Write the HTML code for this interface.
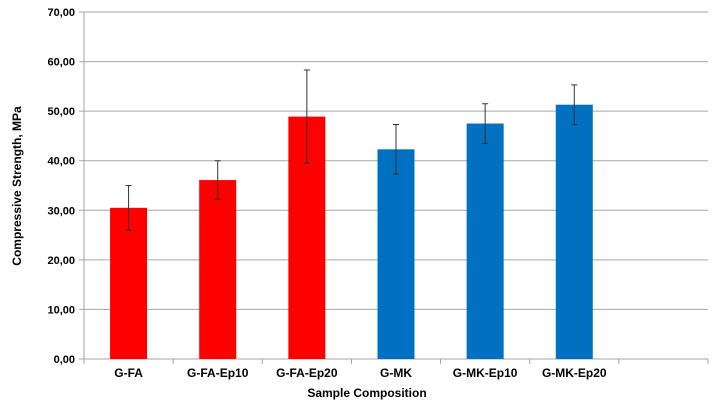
<!DOCTYPE html>
<html><head><meta charset="utf-8"><style>
body{margin:0;background:#fff;font-family:"Liberation Sans",Arial,sans-serif;}
svg text{font-family:"Liberation Sans",Arial,sans-serif;font-weight:bold;fill:#000;}
</style></head><body>
<svg id="chart" width="712" height="403" xmlns="http://www.w3.org/2000/svg"></svg>
<script>
const categories=["G-FA","G-FA-Ep10","G-FA-Ep20","G-MK","G-MK-Ep10","G-MK-Ep20"];
const values=[30.5,36.1,48.9,42.3,47.5,51.3];
const errors=[4.5,3.9,9.4,5.0,4.0,4.0];
const colors=["#ff0000","#ff0000","#ff0000","#0070c0","#0070c0","#0070c0"];
const yTicks=[0,10,20,30,40,50,60,70];
const yTickLabels=["0,00","10,00","20,00","30,00","40,00","50,00","60,00","70,00"];
const svg=document.getElementById('chart');
const NS='http://www.w3.org/2000/svg';
const x0=84,x1=708,yTop=12,yBot=359,slots=7,yMax=70;
const slotW=(x1-x0)/slots;
const y=v=>yBot-(v/yMax)*(yBot-yTop);
const xc=i=>x0+slotW*(i+0.5);
function mk(t,a){const e=document.createElementNS(NS,t);for(const k in a)e.setAttribute(k,a[k]);svg.appendChild(e);return e;}
yTicks.forEach((t,i)=>{
  const g=mk('line',{x1:x0-5,x2:x1,y1:y(t),y2:y(t),stroke:'#a6a6a6','stroke-width':1});
  
  
  const l=mk('text',{x:x0-9,y:y(t)+4,'text-anchor':'end','font-size':11});
  l.textContent=yTickLabels[i];
  
  
});
for(let i=0;i<=slots;i++){
  const t=mk('line',{x1:x0+slotW*i,x2:x0+slotW*i,y1:yBot,y2:yBot+5,stroke:'#a6a6a6'});
  
  
}
const ax=mk('line',{x1:x0,x2:x0,y1:yTop,y2:yBot,stroke:'#a6a6a6'});


const bw=37;
categories.forEach((c,i)=>{
  const b=mk('rect',{x:xc(i)-bw/2,y:y(values[i]),width:bw,height:yBot-y(values[i]),fill:colors[i]});
  
  
  const e=mk('path',{d:`M${xc(i)},${y(values[i]-errors[i])}V${y(values[i]+errors[i])}M${xc(i)-3},${y(values[i]+errors[i])}h6M${xc(i)-3},${y(values[i]-errors[i])}h6`,stroke:'#333','stroke-width':1,fill:'none'});
  
  
  const l=mk('text',{x:xc(i)-bw/2+bw/2,y:377,'text-anchor':'middle','font-size':12});
  l.textContent=c;
  
  
});
const xt=mk('text',{x:367,y:397,'text-anchor':'middle','font-size':12});
xt.textContent='Sample Composition';


const yt=mk('text',{x:0,y:0,'text-anchor':'middle','font-size':12,transform:'translate(21,186) rotate(-90)'});
yt.textContent='Compressive Strength, MPa';


</script>
</body></html>
